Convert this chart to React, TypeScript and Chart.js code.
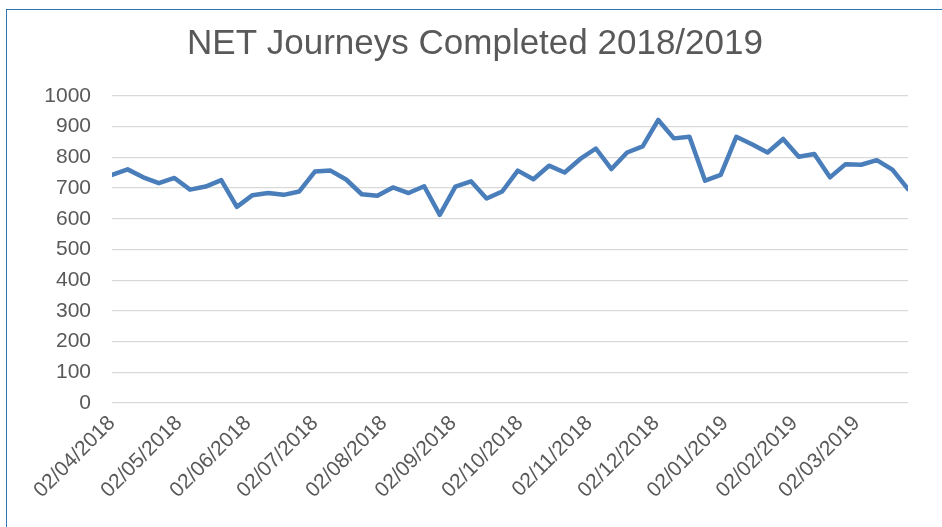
import React, { useEffect, useRef } from "react";
import { Chart, registerables } from "chart.js";

Chart.register(...registerables);

// Week-commencing dates of each data point
const weekDates = [
  "2018-04-02", "2018-04-09", "2018-04-16", "2018-04-23", "2018-04-30",
  "2018-05-07", "2018-05-14", "2018-05-21", "2018-05-28",
  "2018-06-04", "2018-06-11", "2018-06-18", "2018-06-25",
  "2018-07-02", "2018-07-09", "2018-07-16", "2018-07-23", "2018-07-30",
  "2018-08-06", "2018-08-13", "2018-08-20", "2018-08-27",
  "2018-09-03", "2018-09-10", "2018-09-17", "2018-09-24",
  "2018-10-01", "2018-10-08", "2018-10-15", "2018-10-22", "2018-10-29",
  "2018-11-05", "2018-11-12", "2018-11-19", "2018-11-26",
  "2018-12-03", "2018-12-10", "2018-12-17", "2018-12-24", "2018-12-31",
  "2019-01-07", "2019-01-14", "2019-01-21", "2019-01-28",
  "2019-02-04", "2019-02-11", "2019-02-18", "2019-02-25",
  "2019-03-04", "2019-03-11", "2019-03-18", "2019-03-25",
];

// NET journeys completed per week
const journeys = [
  743, 761, 735, 716, 733, 695, 705, 726, 639,
  677, 684, 678, 689, 754, 757, 728, 680, 675,
  702, 684, 706, 613, 705, 722, 666, 689,
  757, 729, 773, 751, 795, 829, 762, 816, 836,
  922, 862, 867, 724, 743, 867, 843, 816, 860,
  802, 811, 735, 778, 776, 791, 760, 697,
];

// Axis tick labels (monthly)
const xTickLabels = [
  "02/04/2018", "02/05/2018", "02/06/2018", "02/07/2018", "02/08/2018", "02/09/2018",
  "02/10/2018", "02/11/2018", "02/12/2018", "02/01/2019", "02/02/2019", "02/03/2019",
];
const yMin = 0;
const yMax = 1000;
const yStep = 100;

const titleText = "NET Journeys Completed 2018/2019";

const DAY = 86400000;
const isoToMs = (s: string) => {
  const [y, m, d] = s.split("-").map(Number);
  return Date.UTC(y, m - 1, d);
};
const labelToMs = (s: string) => {
  const [d, m, y] = s.split("/").map(Number);
  return Date.UTC(y, m - 1, d);
};

export default function App() {
  const ref = useRef<HTMLCanvasElement | null>(null);

  useEffect(() => {
    if (!ref.current) return;
    const origin = isoToMs(weekDates[0]);
    const points = weekDates.map((d, i) => ({
      x: (isoToMs(d) - origin) / DAY,
      y: journeys[i],
    }));
    const tickVals = xTickLabels.map((l) => (labelToMs(l) - origin) / DAY);
    const lastX = points[points.length - 1].x;
    const font = "'Liberation Sans', Arial, sans-serif";
    const textColor = "#595959";

    const chart = new Chart(ref.current, {
      type: "line",
      data: {
        datasets: [
          {
            data: points,
            borderColor: "#4a7ebb",
            borderWidth: 4.5,
            pointRadius: 0,
            tension: 0,
            borderJoinStyle: "round",
            borderCapStyle: "round",
            fill: false,
          },
        ],
      },
      options: {
        responsive: false,
        animation: false,
        layout: { padding: { left: 42, right: 34, top: 0, bottom: 0 } },
        plugins: {
          legend: { display: false },
          tooltip: { enabled: false },
          title: {
            display: true,
            text: titleText,
            color: textColor,
            font: { family: font, size: 35, weight: "normal" },
            padding: { top: 23, bottom: 31 },
          },
        },
        scales: {
          x: {
            type: "linear",
            min: 0,
            max: lastX,
            afterBuildTicks: (scale: any) => {
              scale.ticks = tickVals.map((v) => ({ value: v }));
            },
            afterFit: (scale: any) => {
              scale.height = 124;
            },
            grid: { display: false, drawTicks: false },
            border: { display: false },
            ticks: {
              autoSkip: false,
              minRotation: 45,
              maxRotation: 45,
              padding: 8,
              color: textColor,
              font: { family: font, size: 21 },
              callback: (_v: any, i: number) => xTickLabels[i],
            },
          },
          y: {
            min: yMin,
            max: yMax,
            afterFit: (scale: any) => {
              scale.width = 70;
            },
            grid: { color: "#d9d9d9", lineWidth: 1.3, drawTicks: false },
            border: { display: false },
            ticks: {
              stepSize: yStep,
              padding: 21,
              color: textColor,
              font: { family: font, size: 21 },
              callback: (v: any) => String(v),
            },
          },
        },
      },
    });
    return () => chart.destroy();
  }, []);

  return (
    <div
      style={{
        position: "fixed",
        left: 0,
        top: 0,
        width: 942,
        height: 527,
        overflow: "hidden",
        background: "#fff",
      }}
    >
      <div
        style={{
          position: "absolute",
          left: 6,
          top: 8.5,
          width: 1000,
          height: 600,
          border: "1.5px solid #2e75b6",
          boxSizing: "border-box",
        }}
      />
      <canvas
        ref={ref}
        width={942}
        height={527}
        style={{ position: "absolute", left: 0, top: 0, width: 942, height: 527 }}
      />
    </div>
  );
}
